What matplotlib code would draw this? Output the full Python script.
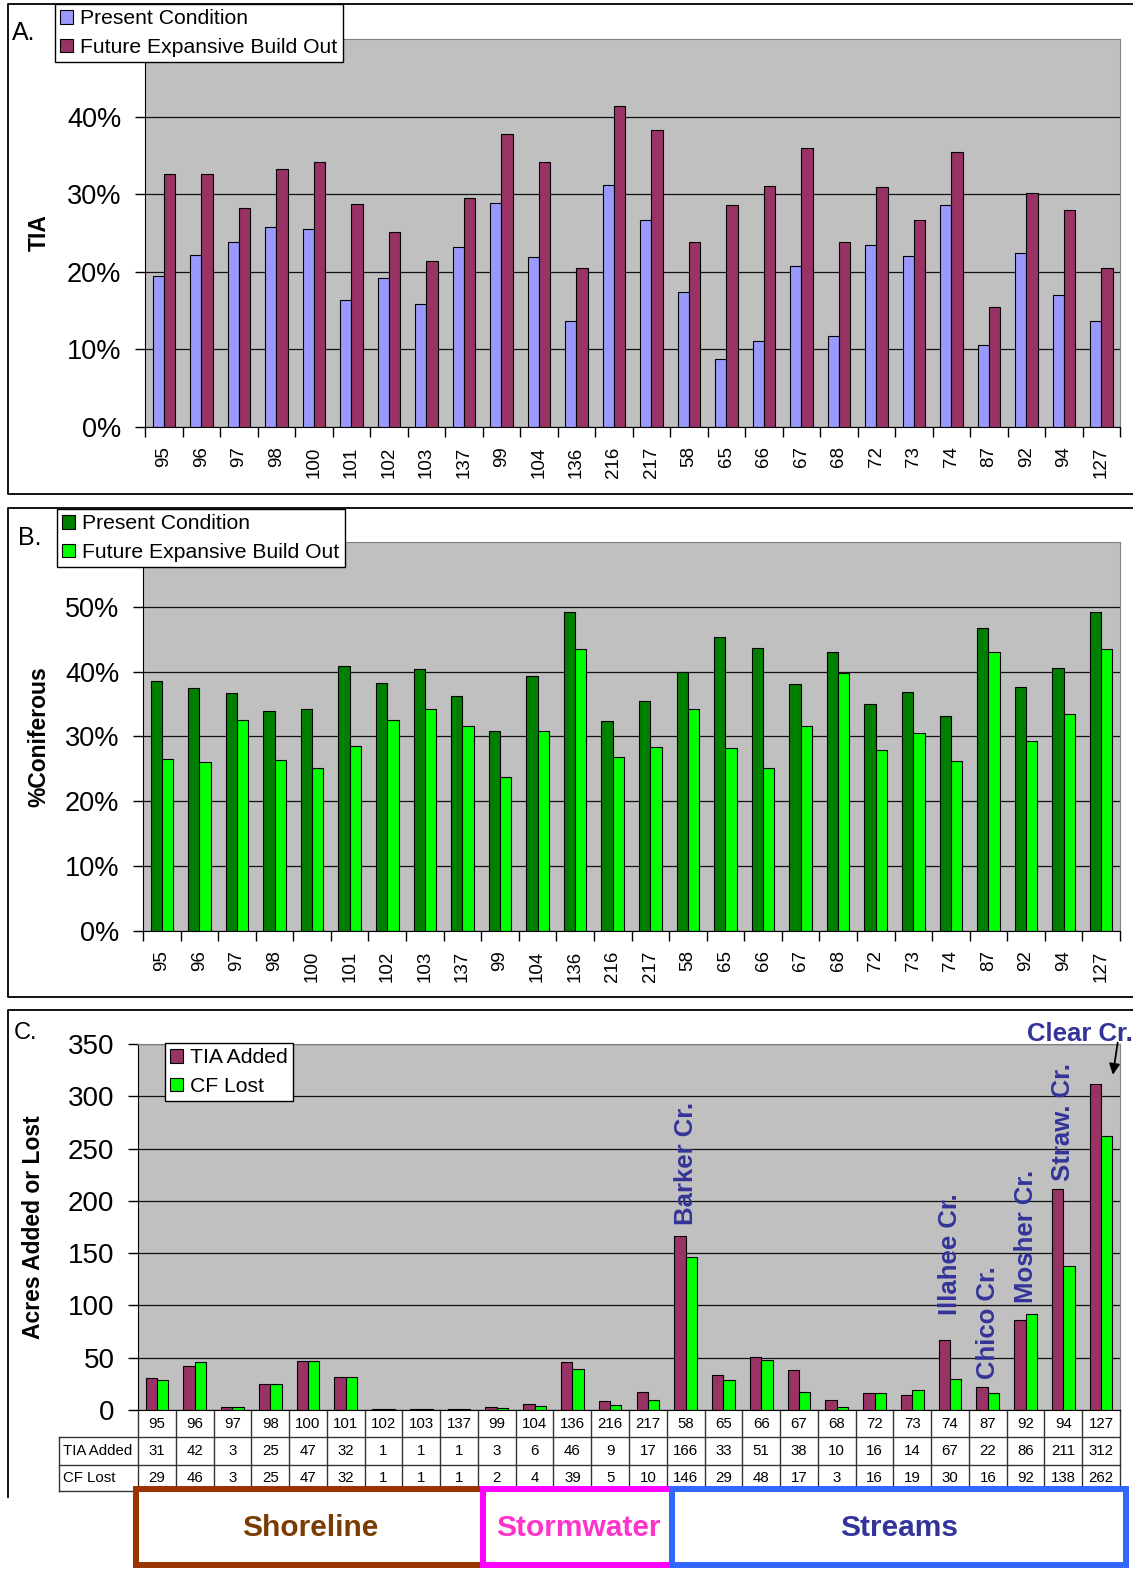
import matplotlib
matplotlib.use("Agg")
import matplotlib.pyplot as plt
import numpy as np
from matplotlib.patches import Rectangle
from matplotlib.ticker import PercentFormatter
from matplotlib.transforms import blended_transform_factory

plt.rcParams['font.family'] = ['Liberation Sans', 'DejaVu Sans']

W, H = 1133, 1570

# subbasin ids in plotting order
sites = ['95', '96', '97', '98', '100', '101', '102', '103', '137', '99', '104', '136',
         '216', '217', '58', '65', '66', '67', '68', '72', '73', '74', '87', '92', '94', '127']

# % total impervious area
tia_present = [19.5, 22.2, 23.8, 25.8, 25.5, 16.4, 19.2, 15.8, 23.2, 28.9, 21.9, 13.7, 31.2,
               26.7, 17.4, 8.7, 11.1, 20.8, 11.7, 23.5, 22.1, 28.6, 10.6, 22.4, 17.0, 13.7]
tia_future = [32.6, 32.6, 28.2, 33.2, 34.2, 28.7, 25.1, 21.4, 29.5, 37.7, 34.1, 20.5, 41.4,
              38.3, 23.9, 28.6, 31.0, 36.0, 23.8, 30.9, 26.7, 35.5, 15.5, 30.1, 27.9, 20.5]

# % coniferous forest
cf_present = [38.5, 37.5, 36.7, 33.9, 34.2, 40.8, 38.2, 40.4, 36.3, 30.9, 39.3, 49.2, 32.4,
              35.4, 40.0, 45.4, 43.7, 38.1, 43.0, 35.0, 36.8, 33.1, 46.7, 37.6, 40.5, 49.2]
cf_future = [26.6, 26.0, 32.6, 26.4, 25.2, 28.6, 32.5, 34.3, 31.6, 23.8, 30.8, 43.5, 26.9,
             28.4, 34.3, 28.2, 25.1, 31.6, 39.8, 27.9, 30.6, 26.2, 43.0, 29.3, 33.4, 43.5]

# acres
tia_added = [31, 42, 3, 25, 47, 32, 1, 1, 1, 3, 6, 46, 9, 17, 166, 33, 51, 38, 10, 16, 14,
             67, 22, 86, 211, 312]
cf_lost = [29, 46, 3, 25, 47, 32, 1, 1, 1, 2, 4, 39, 5, 10, 146, 29, 48, 17, 3, 16, 19, 30,
           16, 92, 138, 262]

stream_names = {'58': 'Barker Cr.', '74': 'Illahee Cr.', '87': 'Chico Cr.',
                '92': 'Mosher Cr.', '94': 'Straw. Cr.'}
name_pad = {'58': 11, '74': 24, '87': 8, '92': 10, '94': 8}

groups = [('Shoreline', 0, 9, '#993300', '#7a3c00'),
          ('Stormwater', 9, 14, '#FF00FF', '#FF33CC'),
          ('Streams', 14, 26, '#3366FF', '#333399')]

GRAY = '#C0C0C0'
BW = 0.3
x = np.arange(len(sites))

fig = plt.figure(figsize=(W / 100, H / 100), dpi=100)


def px_axes(left, top, right, bottom):
    return fig.add_axes([left / W, 1 - bottom / H, (right - left) / W, (bottom - top) / H])


def style_axes(ax, ymax, ticks, label, label_x):
    ax.set_facecolor(GRAY)
    ax.set_xlim(-0.5, len(sites) - 0.5)
    ax.set_ylim(0, ymax)
    ax.set_yticks(ticks)
    ax.yaxis.grid(True, color='#111111', lw=0.9)
    ax.set_axisbelow(True)
    for side in ('top', 'right'):
        ax.spines[side].set_color('#808080')
    for side in ('left', 'bottom'):
        ax.spines[side].set_color('black')
    ax.tick_params(axis='y', length=7, width=1, pad=10, labelsize=19.5)
    ax.set_ylabel(label, fontsize=16.5, fontweight='bold')
    ax.yaxis.set_label_coords(label_x, 0.5)


def category_ticks(ax):
    ax.set_xticks(x, sites, rotation=90, fontsize=13.5)
    ax.set_xticks(np.arange(len(sites) + 1) - 0.5, minor=True)
    ax.tick_params(axis='x', which='major', length=0, pad=14)
    ax.tick_params(axis='x', which='minor', length=7, width=1)


def box_legend(ax, handles, labels, left, top):
    leg = ax.legend(handles, labels, loc='upper left', bbox_to_anchor=(left / W, 1 - top / H),
                    bbox_transform=fig.transFigure, borderaxespad=0, fontsize=15.2,
                    fancybox=False, framealpha=1, edgecolor='black', borderpad=0.25,
                    handlelength=0.6, handleheight=0.6, handletextpad=0.35,
                    labelspacing=0.45)
    leg.get_frame().set_linewidth(1.0)


# frames and panel letters
bg = fig.add_axes([0, 0, 1, 1])
bg.set_zorder(-1)
bg.set_xlim(0, W)
bg.set_ylim(H, 0)
bg.axis('off')
bg.plot([1150, 8, 8, 1150], [4, 4, 494, 494], color='black', lw=1.3)
bg.plot([1150, 8, 8, 1150], [508, 508, 997, 997], color='black', lw=1.3)
bg.plot([1150, 8, 8], [1010, 1010, 1497], color='black', lw=1.3)
bg.text(12, 33, 'A.', fontsize=18, va='center')
bg.text(18, 538, 'B.', fontsize=18, va='center')
bg.text(14, 1033, 'C.', fontsize=17, va='center')

# A. TIA
ax1 = px_axes(145, 39, 1120, 427)
b1 = ax1.bar(x - BW / 2, tia_present, BW, color='#9999FF', edgecolor='black', lw=0.8)
b2 = ax1.bar(x + BW / 2, tia_future, BW, color='#993366', edgecolor='black', lw=0.8)
style_axes(ax1, 50, np.arange(0, 41, 10), 'TIA', -0.097)
ax1.yaxis.set_major_formatter(PercentFormatter(xmax=100, decimals=0))
category_ticks(ax1)
box_legend(ax1, [b1, b2], ['Present Condition', 'Future Expansive Build Out'], 55, 4)

# B. % coniferous
ax2 = px_axes(143, 542, 1120, 931)
g1 = ax2.bar(x - BW / 2, cf_present, BW, color='#008000', edgecolor='black', lw=0.8)
g2 = ax2.bar(x + BW / 2, cf_future, BW, color='#00FF00', edgecolor='black', lw=0.8)
style_axes(ax2, 60, np.arange(0, 51, 10), '%Coniferous', -0.095)
ax2.yaxis.set_major_formatter(PercentFormatter(xmax=100, decimals=0))
category_ticks(ax2)
box_legend(ax2, [g1, g2], ['Present Condition', 'Future Expansive Build Out'], 57, 509)

# C. acres added / lost
ax3 = px_axes(138, 1044, 1120, 1410)
c1 = ax3.bar(x - BW / 2, tia_added, BW, color='#993366', edgecolor='black', lw=0.8)
c2 = ax3.bar(x + BW / 2, cf_lost, BW, color='#00FF00', edgecolor='black', lw=0.8)
style_axes(ax3, 350, np.arange(0, 351, 50), 'Acres Added or Lost', -0.095)
ax3.tick_params(axis='y', labelsize=20)
ax3.set_xticks([])
box_legend(ax3, [c1, c2], ['TIA Added', 'CF Lost'], 165, 1043)

for i, s in enumerate(sites):
    if s in stream_names:
        top = max(tia_added[i], cf_lost[i]) + name_pad[s]
        ax3.text(i, top, stream_names[s], rotation=90, ha='center', va='bottom',
                 fontsize=18.5, fontweight='bold', color='#333399')
ax3.text(23.05, 360, 'Clear Cr.', ha='left', va='center', fontsize=18.5,
         fontweight='bold', color='#333399', clip_on=False)
ax3.annotate('', xy=(25.3, 318), xytext=(25.45, 354), annotation_clip=False,
             arrowprops=dict(arrowstyle='-|>', color='black', lw=1.3, mutation_scale=16))

# data table under panel C
tr = blended_transform_factory(ax3.transData, ax3.transAxes)
rows = [0, -27 / 366, -55 / 366, -81 / 366]
n = len(sites)
for yb in rows[1:]:
    ax3.plot([-0.5, n - 0.5], [yb, yb], transform=tr, color='#333333', lw=1, clip_on=False)
for xb in np.arange(n + 1) - 0.5:
    ax3.plot([xb, xb], [rows[0], rows[3]], transform=tr, color='#333333', lw=1, clip_on=False)
lab_x = -(138 - 59) / 982
for yb in rows[1:]:
    ax3.plot([lab_x, 0], [yb, yb], transform=ax3.transAxes, color='#333333', lw=1, clip_on=False)
ax3.plot([lab_x, lab_x], [rows[1], rows[3]], transform=ax3.transAxes, color='#333333', lw=1,
         clip_on=False)
row_labels = ['TIA Added', 'CF Lost']
for r, (label, vals) in enumerate(zip(row_labels, [tia_added, cf_lost]), start=1):
    yc = (rows[r] + rows[r + 1]) / 2
    ax3.text(lab_x + 0.004, yc, label, transform=ax3.transAxes, fontsize=10.8, va='center',
             ha='left')
    for i, v in enumerate(vals):
        ax3.text(i, yc, str(v), transform=tr, fontsize=10.8, ha='center', va='center')
for i, s in enumerate(sites):
    ax3.text(i, (rows[0] + rows[1]) / 2, s, transform=tr, fontsize=10.8, ha='center',
             va='center')

# program group boxes
for name, start, stop, edge, txt in groups:
    lo = start - 0.5 + (0.14 if start else -0.05)
    hi = stop - 0.5 + 0.16
    ax3.add_patch(Rectangle((lo, -0.424), hi - lo, 0.208, transform=tr,
                            facecolor='white', edgecolor=edge, lw=4.3, clip_on=False,
                            zorder=10))
    ax3.text((lo + hi) / 2, -0.322, name, transform=tr, ha='center', va='center',
             fontsize=21.5, fontweight='bold', color=txt, zorder=11)

fig.savefig('out.png', dpi=100)
